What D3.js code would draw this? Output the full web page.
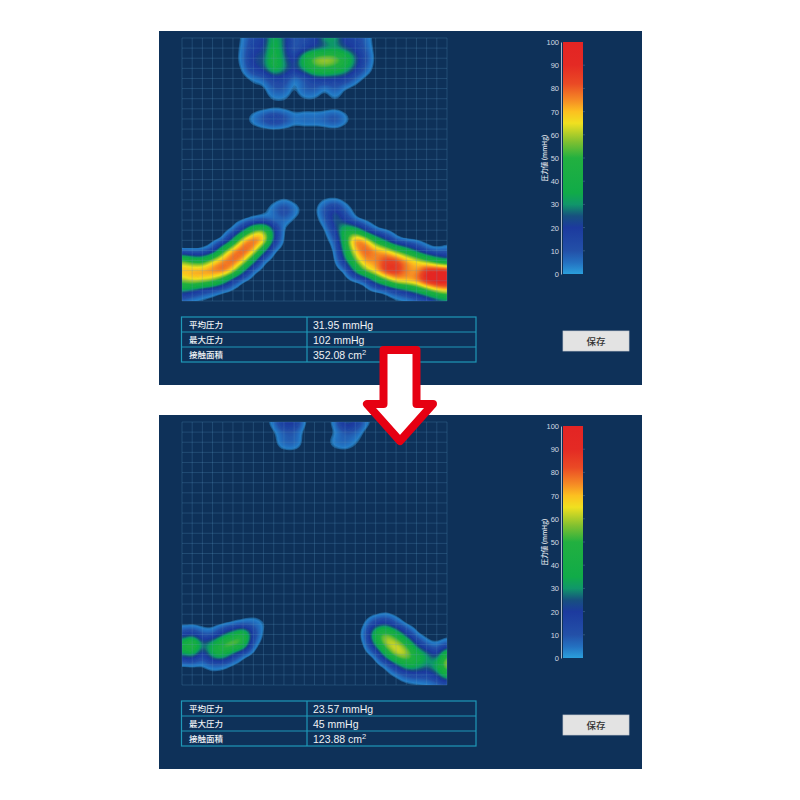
<!DOCTYPE html>
<html lang="ja">
<head>
    <meta charset="UTF-8">
    <title>圧力分布</title>
    <script src="https://d3js.org/d3.v7.min.js"></script>
    <style>
        html, body { margin: 0; background: #fff; }
        svg { display: block; }
    </style>
</head>
<body>
    <svg id="chart" width="800" height="800"></svg>
    <script>
        // pressure (mmHg) at each crossing of the 26 x 26 grid
        const beforeRows = [
            [0,0,0,0,0,0,3,14,18,38,26,8,12,16,34,34,16,16,6,0,0,0,0,0,0,0,0],
            [0,0,0,0,0,0,4,18,20,42,26,5,14,20,22,30,22,18,8,0,0,0,0,0,0,0,0],
            [0,0,0,0,0,0,5,24,24,46,28,14,44,62,66,62,50,28,12,0,0,0,0,0,0,0,0],
            [0,0,0,0,0,0,3,20,24,44,32,20,36,50,52,48,38,24,8,0,0,0,0,0,0,0,0],
            [0,0,0,0,0,0,0,3,6,16,16,2,8,18,20,18,18,6,0,0,0,0,0,0,0,0,0],
            [0,0,0,0,0,0,0,2,0,10,10,0,10,10,1,10,1,0,0,0,0,0,0,0,0,0,0],
            [0,0,0,0,0,0,0,0,0,3,3,0,2,2,0,3,0,0,0,0,0,0,0,0,0,0,0],
            [0,0,0,0,0,0,0,0,0,0,0,0,0,0,0,0,0,0,0,0,0,0,0,0,0,0,0],
            [0,0,0,0,0,0,0,6,14,24,16,6,9,8,10,16,5,0,0,0,0,0,0,0,0,0,0],
            [0,0,0,0,0,0,0,0,0,0,0,0,0,0,0,0,0,0,0,0,0,0,0,0,0,0,0],
            [0,0,0,0,0,0,0,0,0,0,0,0,0,0,0,0,0,0,0,0,0,0,0,0,0,0,0],
            [0,0,0,0,0,0,0,0,0,0,0,0,0,0,0,0,0,0,0,0,0,0,0,0,0,0,0],
            [0,0,0,0,0,0,0,0,0,0,0,0,0,0,0,0,0,0,0,0,0,0,0,0,0,0,0],
            [0,0,0,0,0,0,0,0,0,0,0,0,0,0,0,0,0,0,0,0,0,0,0,0,0,0,0],
            [0,0,0,0,0,0,0,0,0,0,0,0,0,0,0,0,0,0,0,0,0,0,0,0,0,0,0],
            [0,0,0,0,0,0,0,0,0,0,0,0,0,0,0,0,0,0,0,0,0,0,0,0,0,0,0],
            [0,0,0,0,0,0,0,0,0,0,2,0,0,0,2,2,0,0,0,0,0,0,0,0,0,0,0],
            [0,0,0,0,0,0,0,0,0,7,18,7,0,0,12,26,7,0,0,0,0,0,0,0,0,0,0],
            [0,0,0,0,0,0,0,3,6,3,7,1,0,0,6,30,18,2,0,0,0,0,0,0,0,0,0],
            [0,0,0,0,0,2,22,54,62,26,0,0,0,0,0,18,44,42,16,2,0,0,0,0,0,0,0],
            [0,0,0,0,1,30,72,84,78,22,0,0,0,0,0,6,44,84,74,44,24,3,0,0,0,0,0],
            [0,0,1,8,48,76,86,74,32,1,0,0,0,0,0,1,36,70,84,76,70,54,40,22,6,2,6],
            [58,46,42,64,76,84,72,34,2,0,0,0,0,0,0,0,24,56,76,74,86,86,76,68,54,40,28],
            [74,76,78,80,84,68,30,2,0,0,0,0,0,0,0,0,1,32,60,72,90,90,76,72,92,94,94],
            [58,66,64,58,40,12,0,0,0,0,0,0,0,0,0,0,0,0,4,32,50,70,74,78,94,98,98],
            [30,22,12,6,1,0,0,0,0,0,0,0,0,0,0,0,0,0,0,0,2,12,20,32,46,62,68],
            [3,0,0,0,0,0,0,0,0,0,0,0,0,0,0,0,0,0,0,0,0,0,0,2,7,16,22]
        ];
        const afterRows = [
            [0,0,0,0,0,0,0,0,0,5,24,24,2,0,0,4,30,22,5,0,0,0,0,0,0,0,0],
            [0,0,0,0,0,0,0,0,0,1,8,9,0,0,0,2,9,8,0,0,0,0,0,0,0,0,0],
            [0,0,0,0,0,0,0,0,0,0,9,10,0,0,0,6,9,3,0,0,0,0,0,0,0,0,0],
            [0,0,0,0,0,0,0,0,0,0,0,0,0,0,0,0,0,0,0,0,0,0,0,0,0,0,0],
            [0,0,0,0,0,0,0,0,0,0,0,0,0,0,0,0,0,0,0,0,0,0,0,0,0,0,0],
            [0,0,0,0,0,0,0,0,0,0,0,0,0,0,0,0,0,0,0,0,0,0,0,0,0,0,0],
            [0,0,0,0,0,0,0,0,0,0,0,0,0,0,0,0,0,0,0,0,0,0,0,0,0,0,0],
            [0,0,0,0,0,0,0,0,0,0,0,0,0,0,0,0,0,0,0,0,0,0,0,0,0,0,0],
            [0,0,0,0,0,0,0,0,0,0,0,0,0,0,0,0,0,0,0,0,0,0,0,0,0,0,0],
            [0,0,0,0,0,0,0,0,0,0,0,0,0,0,0,0,0,0,0,0,0,0,0,0,0,0,0],
            [0,0,0,0,0,0,0,0,0,0,0,0,0,0,0,0,0,0,0,0,0,0,0,0,0,0,0],
            [0,0,0,0,0,0,0,0,0,0,0,0,0,0,0,0,0,0,0,0,0,0,0,0,0,0,0],
            [0,0,0,0,0,0,0,0,0,0,0,0,0,0,0,0,0,0,0,0,0,0,0,0,0,0,0],
            [0,0,0,0,0,0,0,0,0,0,0,0,0,0,0,0,0,0,0,0,0,0,0,0,0,0,0],
            [0,0,0,0,0,0,0,0,0,0,0,0,0,0,0,0,0,0,0,0,0,0,0,0,0,0,0],
            [0,0,0,0,0,0,0,0,0,0,0,0,0,0,0,0,0,0,0,0,0,0,0,0,0,0,0],
            [0,0,0,0,0,0,0,0,0,0,0,0,0,0,0,0,0,0,0,0,0,0,0,0,0,0,0],
            [0,0,0,0,0,0,0,0,0,0,0,0,0,0,0,0,0,0,0,0,0,0,0,0,0,0,0],
            [0,0,0,0,0,0,0,0,0,0,0,0,0,0,0,0,0,0,0,0,0,0,0,0,0,0,0],
            [0,0,0,0,0,0,0,0,0,0,0,0,0,0,0,0,0,0,0,0,2,0,0,0,0,0,0],
            [0,0,0,0,0,2,5,8,3,0,0,0,0,0,0,0,0,0,2,18,24,9,0,0,0,0,0],
            [14,20,8,6,24,40,58,16,0,0,0,0,0,0,0,0,0,0,5,50,62,46,20,2,0,0,0],
            [42,66,26,40,58,64,50,4,0,0,0,0,0,0,0,0,0,0,2,32,64,68,52,22,5,2,8],
            [28,34,12,38,44,20,2,0,0,0,0,0,0,0,0,0,0,0,0,3,36,64,66,46,34,16,56],
            [1,2,2,7,5,0,0,0,0,0,0,0,0,0,0,0,0,0,0,0,3,22,42,40,28,38,68],
            [0,0,0,0,0,0,0,0,0,0,0,0,0,0,0,0,0,0,0,0,0,2,10,14,14,22,44],
            [0,0,0,0,0,0,0,0,0,0,0,0,0,0,0,0,0,0,0,0,0,0,0,0,1,3,7]
        ];

        const statLabels = ["平均圧力", "最大圧力", "接触面積"];
        const beforeStats = ["31.95 mmHg", "102 mmHg", "352.08 cm"];
        const afterStats = ["23.57 mmHg", "45 mmHg", "123.88 cm"];
        const scaleTicks = [0, 10, 20, 30, 40, 50, 60, 70, 80, 90, 100];
        const scaleTitle = "圧力値 (mmHg)";
        const saveLabel = "保存";

        // colour bar stops
        const stopValues = [0, 5, 10, 20, 25, 30, 35, 50, 57, 65, 70, 75, 82, 90, 100];
        const stopColors = ["#2a9fdc", "#2470c0", "#2350a8", "#1c3a9e", "#17507f", "#10966a", "#10ab48",
            "#22b040", "#80c030", "#f0e020", "#fcc020", "#f58a25", "#ea4a25", "#e42a24", "#e32424"];

        const svg = d3.select("#chart");
        const cjk = "'Noto Sans CJK JP', sans-serif";
        const latin = "'Liberation Sans', Arial, sans-serif";

        const color = d3.scaleLinear().domain(stopValues).range(stopColors);
        const fine = 4; // contour cells per grid cell, only to round the contour shapes

        const defs = svg.append("defs");
        defs.append("filter").attr("id", "soft")
            .attr("x", "-5%").attr("y", "-5%").attr("width", "110%").attr("height", "110%")
            .append("feGaussianBlur").attr("stdDeviation", 0.7);

        // legend gradient
        const grad = defs.append("linearGradient").attr("id", "barGrad")
            .attr("x1", 0).attr("x2", 0).attr("y1", 1).attr("y2", 0);
        grad.selectAll("stop").data(stopValues).enter().append("stop")
            .attr("offset", d => d + "%")
            .attr("stop-color", d => color(d));

        svg.append("rect").attr("width", 800).attr("height", 800).attr("fill", "#fff");

        // bilinear resample of the grid followed by a small blur, for round outlines
        function smoothField(rows) {
            const n = 26 * fine + 1;
            const field = new Float64Array(n * n);
            for (let j = 0; j < n; j++) {
                for (let i = 0; i < n; i++) {
                    const gx = i / fine, gy = j / fine;
                    const x0 = Math.min(Math.floor(gx), 25), y0 = Math.min(Math.floor(gy), 25);
                    const tx = gx - x0, ty = gy - y0;
                    field[j * n + i] = (1 - ty) * ((1 - tx) * rows[y0][x0] + tx * rows[y0][x0 + 1])
                        + ty * ((1 - tx) * rows[y0 + 1][x0] + tx * rows[y0 + 1][x0 + 1]);
                }
            }
            d3.blur2({data: field, width: n, height: n}, 1);
            return {field, n};
        }

        function drawPanel(top, rows, stats, id) {
            const g = svg.append("g").attr("transform", `translate(0,${top})`);

            g.append("rect").attr("x", 159).attr("y", 0).attr("width", 483).attr("height", 354)
                .attr("fill", "#0e3159");

            const x = d3.scaleLinear().domain([0, 26]).range([182, 447]);
            const y = d3.scaleLinear().domain([0, 26]).range([7, 270]);

            defs.append("clipPath").attr("id", "clip" + id).append("rect")
                .attr("x", x(0)).attr("y", y(0)).attr("width", x(26) - x(0)).attr("height", y(26) - y(0));

            // heat map as stacked filled contours
            const {field, n} = smoothField(rows);
            const contours = d3.contours().size([n, n]).thresholds(d3.range(2.5, 100, 0.5))(Array.from(field));
            const project = d3.geoTransform({
                point(px, py) { this.stream.point(x((px - 0.5) / fine), y((py - 0.5) / fine)); }
            });
            const path = d3.geoPath(project);

            g.append("g").attr("clip-path", `url(#clip${id})`)
                .append("g").attr("filter", "url(#soft)")
                .selectAll("path").data(contours).enter().append("path")
                .attr("d", path)
                .attr("fill", d => color(d.value))
                .attr("fill-opacity", d => d.value < 3.5 ? 0.5 : 1);

            // grid on top of the map
            const gridLines = g.append("g").attr("stroke", "#5f9fca").attr("stroke-opacity", 0.3).attr("stroke-width", 0.8);
            gridLines.selectAll("line.v").data(d3.range(27)).enter().append("line").attr("class", "v")
                .attr("x1", d => x(d)).attr("x2", d => x(d)).attr("y1", y(0)).attr("y2", y(26));
            gridLines.selectAll("line.h").data(d3.range(27)).enter().append("line").attr("class", "h")
                .attr("y1", d => y(d)).attr("y2", d => y(d)).attr("x1", x(0)).attr("x2", x(26));

            // colour bar
            const barScale = d3.scaleLinear().domain([0, 100]).range([243, 11]);
            g.append("rect").attr("x", 563).attr("y", barScale(100)).attr("width", 20)
                .attr("height", barScale(0) - barScale(100)).attr("fill", "url(#barGrad)");

            const axis = g.append("g").attr("transform", "translate(561,0)")
                .call(d3.axisLeft(barScale).tickValues(scaleTicks).tickSize(0).tickPadding(2));
            axis.select(".domain").attr("stroke", "#a9b7c6").attr("stroke-width", 1);
            axis.selectAll("text").attr("fill", "#d3dbe3").attr("font-size", 7.5).attr("font-family", latin);

            g.append("g").selectAll("line").data(scaleTicks.slice(1, -1)).enter().append("line")
                .attr("x1", 583).attr("x2", 585)
                .attr("y1", d => barScale(d)).attr("y2", d => barScale(d))
                .attr("stroke", "#3d6488").attr("stroke-width", 0.7);

            g.append("text").text(scaleTitle)
                .attr("transform", "translate(547,127) rotate(-90)")
                .attr("text-anchor", "middle").attr("fill", "#e6ebf0")
                .attr("font-size", 6.5).attr("font-family", cjk).attr("font-weight", 500);

            // stats table
            const rowY = d3.scaleLinear().domain([0, 3]).range([286, 331]);
            const table = g.append("g");
            table.append("rect").attr("x", 181.5).attr("y", rowY(0)).attr("width", 294.5)
                .attr("height", rowY(3) - rowY(0)).attr("fill", "none")
                .attr("stroke", "#1f98b8").attr("stroke-width", 1.2);
            table.selectAll("line.r").data([1, 2]).enter().append("line").attr("class", "r")
                .attr("x1", 181.5).attr("x2", 476).attr("y1", d => rowY(d)).attr("y2", d => rowY(d))
                .attr("stroke", "#1f98b8").attr("stroke-width", 1.2);
            table.append("line").attr("x1", 307).attr("x2", 307).attr("y1", rowY(0)).attr("y2", rowY(3))
                .attr("stroke", "#1f98b8").attr("stroke-width", 1.2);

            table.selectAll("text.l").data(statLabels).enter().append("text").attr("class", "l")
                .text(d => d)
                .attr("x", 189).attr("y", (d, i) => rowY(i) + 10.5)
                .attr("fill", "#eef2f5").attr("font-size", 8.5).attr("font-family", cjk).attr("font-weight", 500);

            const vals = table.selectAll("text.v").data(stats).enter().append("text").attr("class", "v")
                .text(d => d)
                .attr("x", 313).attr("y", (d, i) => rowY(i) + 11.5)
                .attr("fill", "#eef2f5").attr("font-size", 10.5).attr("font-family", latin);
            vals.filter((d, i) => i === 2).append("tspan").text("2")
                .attr("dy", -3.5).attr("font-size", 7.5);

            // save button
            g.append("rect").attr("x", 563).attr("y", 300).attr("width", 66).attr("height", 20)
                .attr("fill", "#e3e3e3").attr("stroke", "#c6ccd2").attr("stroke-width", 0.7);
            g.append("text").text(saveLabel)
                .attr("x", 596).attr("y", 314).attr("text-anchor", "middle")
                .attr("fill", "#333").attr("font-size", 9.5).attr("font-family", cjk).attr("font-weight", 500);
        }

        drawPanel(31, beforeRows, beforeStats, "a");
        drawPanel(415, afterRows, afterStats, "b");

        // big arrow between the two screens
        svg.append("path")
            .attr("d", d3.line()([[383.5, 350], [416.5, 350], [416.5, 404], [433, 404], [400, 441], [367, 404], [383.5, 404]]) + "Z")
            .attr("fill", "#fff").attr("stroke", "#e60012").attr("stroke-width", 8).attr("stroke-linejoin", "round");
    </script>
</body>
</html>
